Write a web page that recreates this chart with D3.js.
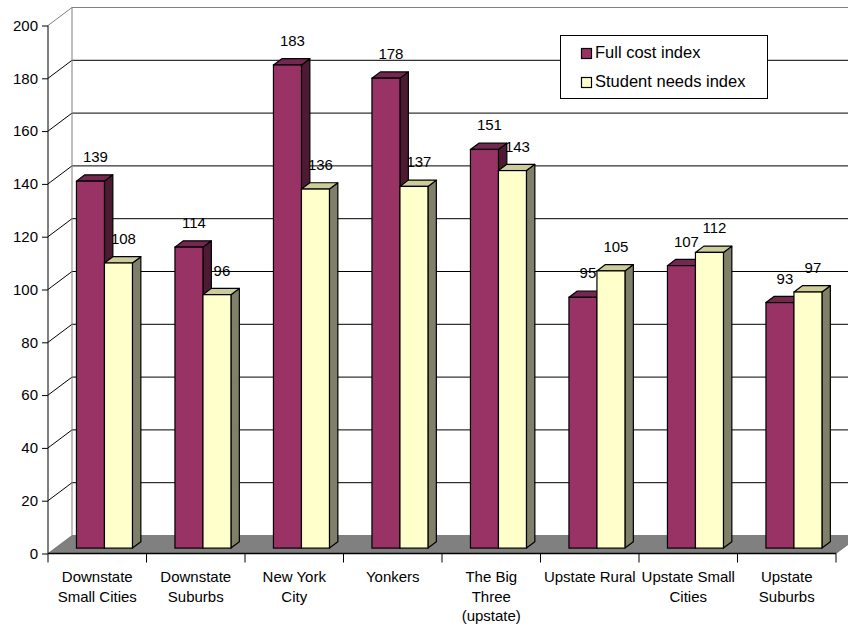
<!DOCTYPE html>
<html>
<head>
<meta charset="utf-8">
<script src="https://cdn.jsdelivr.net/npm/d3@7"></script>
<style>
  body { margin: 0; background: #fff; }
  svg { display: block; font-family: "Liberation Sans", Arial, sans-serif; }
</style>
</head>
<body>
<div id="chart"></div>
<script>
const categories = [
  ['Downstate', 'Small Cities'],
  ['Downstate', 'Suburbs'],
  ['New York', 'City'],
  ['Yonkers'],
  ['The Big', 'Three', '(upstate)'],
  ['Upstate Rural'],
  ['Upstate Small', 'Cities'],
  ['Upstate', 'Suburbs'],
];
const series = ['Full cost index', 'Student needs index'];
const fullCost = [139, 114, 183, 178, 151, 95, 107, 93];
const studentNeeds = [108, 96, 136, 137, 143, 105, 112, 97];
const yTicks = [0, 20, 40, 60, 80, 100, 120, 140, 160, 180, 200];

const colors = {
  'Full cost index': { front: '#993366', top: '#74284f', side: '#4c1a33' },
  'Student needs index': { front: '#FFFFCC', top: '#cccc99', side: '#80806a' },
};

const W = 848, H = 629;
const left = 48, right = 836;
const depthX = 24, depthY = -18;
// bar sits between these fractions of the floor depth
const barT0 = 0.3, barT1 = 0.65;

const svg = d3.select('#chart').append('svg')
  .attr('width', W)
  .attr('height', H);

const y = d3.scaleLinear().domain([0, 200]).range([553.5, 25.5]);
const x0 = d3.scaleBand().domain(d3.range(categories.length)).range([left, right]);
const x1 = d3.scaleBand().domain(series).range([0, x0.bandwidth()]).paddingOuter(0.759);

const rows = categories.map((c, i) => ({
  i,
  values: [
    { key: series[0], v: fullCost[i] },
    { key: series[1], v: studentNeeds[i] },
  ],
}));

// back wall gridlines + left wall diagonals
const grid = svg.append('g');
yTicks.forEach(t => {
  if (t === 0) return;
  grid.append('line')
    .attr('x1', left + depthX).attr('x2', W + 20)
    .attr('y1', y(t) + depthY).attr('y2', y(t) + depthY)
    .attr('stroke', t === 200 ? '#808080' : '#000')
    .attr('stroke-width', 1);
  grid.append('line')
    .attr('x1', left).attr('x2', left + depthX)
    .attr('y1', y(t)).attr('y2', y(t) + depthY)
    .attr('stroke', t === 200 ? '#808080' : '#000');
});
grid.append('line')
  .attr('x1', left + depthX).attr('x2', left + depthX)
  .attr('y1', y(200) + depthY).attr('y2', y(0) + depthY)
  .attr('stroke', '#808080');

// floor
svg.append('path')
  .attr('d', `M${left},${y(0)}L${right},${y(0)}L${right + depthX},${y(0) + depthY}L${left + depthX},${y(0) + depthY}Z`)
  .attr('fill', '#808080')
  .attr('stroke', '#555')
  .attr('stroke-width', 0.6);

// y axis
const yAxis = svg.append('g')
  .attr('transform', `translate(${left},0)`)
  .call(d3.axisLeft(y).tickValues(yTicks).tickSize(6).tickPadding(4));
yAxis.select('.domain').attr('stroke', '#000').attr('d', `M0,${y(200)}V${y(0)}`);
yAxis.selectAll('line').attr('stroke', '#000');
yAxis.selectAll('text').attr('font-size', 15).attr('fill', '#000')
  .attr('font-family', '"Liberation Sans", Arial, sans-serif');

// x axis line + ticks
const xAxis = svg.append('g');
xAxis.append('line')
  .attr('x1', left).attr('x2', right)
  .attr('y1', y(0)).attr('y2', y(0))
  .attr('stroke', '#000').attr('stroke-width', 1.5);
d3.range(categories.length + 1).forEach(i => {
  const xx = i < categories.length ? x0(i) : right;
  xAxis.append('line')
    .attr('x1', xx).attr('x2', xx)
    .attr('y1', y(0)).attr('y2', y(0) + 9)
    .attr('stroke', '#000');
});
categories.forEach((lines, i) => {
  const tx = xAxis.append('text')
    .attr('text-anchor', 'middle')
    .attr('font-size', 15)
    .attr('fill', '#000');
  lines.forEach((ln, j) => {
    tx.append('tspan')
      .attr('x', x0(i) + x0.bandwidth() / 2)
      .attr('y', 582 + j * 19.5)
      .text(ln);
  });
});

// bars
const dx0 = depthX * barT0, dy0 = depthY * barT0;
const dx1 = depthX * barT1, dy1 = depthY * barT1;

const groups = svg.append('g').selectAll('g')
  .data(rows)
  .join('g');

groups.each(function (row) {
  const g = d3.select(this);
  row.values.forEach(d => {
    const c = colors[d.key];
    const xl = x0(row.i) + x1(d.key) + dx0;
    const xr = xl + x1.bandwidth();
    const yt = y(d.v) + dy0;
    const yb = y(0) + dy0;
    const ddx = dx1 - dx0, ddy = dy1 - dy0;
    // side
    g.append('path')
      .attr('d', `M${xr},${yt}L${xr + ddx},${yt + ddy}L${xr + ddx},${yb + ddy}L${xr},${yb}Z`)
      .attr('fill', c.side).attr('stroke', '#000').attr('stroke-width', 1.2)
      .attr('stroke-linejoin', 'round');
    // top
    g.append('path')
      .attr('d', `M${xl},${yt}L${xl + ddx},${yt + ddy}L${xr + ddx},${yt + ddy}L${xr},${yt}Z`)
      .attr('fill', c.top).attr('stroke', '#000').attr('stroke-width', 1.2)
      .attr('stroke-linejoin', 'round');
    // front
    g.append('rect')
      .attr('x', xl).attr('y', yt)
      .attr('width', x1.bandwidth()).attr('height', yb - yt)
      .attr('fill', c.front).attr('stroke', '#000').attr('stroke-width', 1.2);
  });
});

// value labels
groups.each(function (row) {
  const g = d3.select(this);
  row.values.forEach(d => {
    g.append('text')
      .attr('x', x0(row.i) + x1(d.key) + dx0 + x1.bandwidth() / 2 + 5)
      .attr('y', y(d.v) + dy0 - 19)
      .attr('text-anchor', 'middle')
      .attr('font-size', 15)
      .attr('fill', '#000')
      .text(d.v);
  });
});

// legend
const legend = svg.append('g').attr('transform', 'translate(560,35)');
legend.append('rect')
  .attr('x', 0.5).attr('y', 0.5)
  .attr('width', 207).attr('height', 63)
  .attr('fill', '#fff').attr('stroke', '#000');
series.forEach((s, i) => {
  const row = legend.append('g').attr('transform', `translate(21,${13 + i * 29})`);
  row.append('rect')
    .attr('x', 0.5).attr('y', 0.5)
    .attr('width', 10).attr('height', 10)
    .attr('fill', colors[s].front).attr('stroke', '#000').attr('stroke-width', 1.2);
  row.append('text')
    .attr('x', 14).attr('y', 10)
    .attr('font-size', 16.5)
    .attr('fill', '#000')
    .text(s);
});
</script>
</body>
</html>
